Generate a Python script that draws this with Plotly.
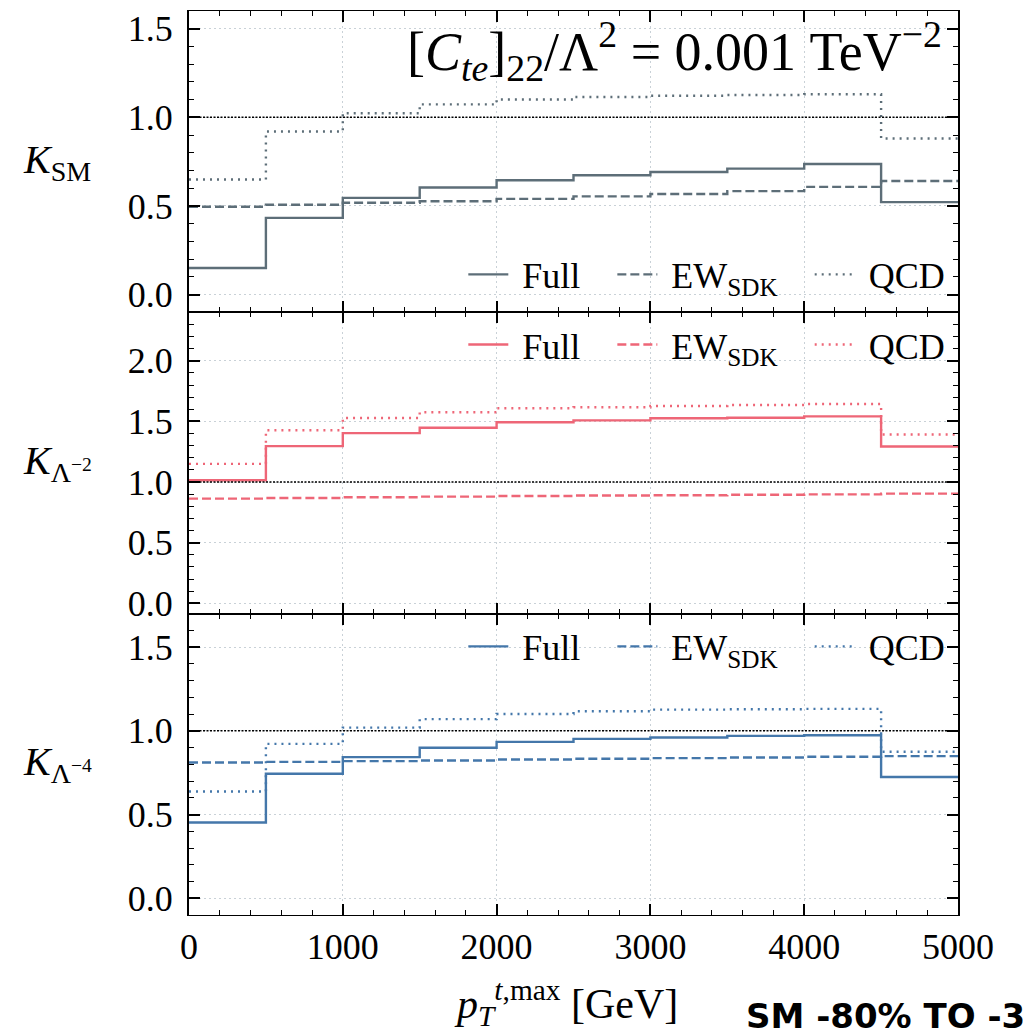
import plotly.graph_objects as go
from plotly.subplots import make_subplots

# ---------------- data ----------------
bin_edges = [0, 500, 1000, 1500, 2000, 2500, 3000, 3500, 4000, 4500, 5000]

ksm_full = [0.150, 0.433, 0.546, 0.604, 0.645, 0.673, 0.692, 0.711, 0.737, 0.522]
ksm_ew   = [0.496, 0.507, 0.518, 0.527, 0.540, 0.554, 0.568, 0.584, 0.608, 0.641]
ksm_qcd  = [0.649, 0.920, 1.023, 1.073, 1.101, 1.115, 1.122, 1.126, 1.130, 0.881]

kl2_full = [1.015, 1.297, 1.404, 1.448, 1.493, 1.509, 1.526, 1.531, 1.542, 1.294]
kl2_ew   = [0.864, 0.869, 0.875, 0.880, 0.885, 0.889, 0.892, 0.896, 0.899, 0.905]
kl2_qcd  = [1.150, 1.427, 1.529, 1.576, 1.609, 1.617, 1.628, 1.636, 1.644, 1.393]

kl4_full = [0.453, 0.744, 0.843, 0.899, 0.934, 0.952, 0.960, 0.970, 0.974, 0.724]
kl4_ew   = [0.811, 0.815, 0.819, 0.823, 0.829, 0.833, 0.837, 0.841, 0.845, 0.849]
kl4_qcd  = [0.638, 0.922, 1.019, 1.070, 1.101, 1.117, 1.127, 1.129, 1.131, 0.875]

series_names = ["Full", "EW<sub>SDK</sub>", "QCD"]
panel_labels = ["<i>K</i><sub>SM</sub>", "<i>K</i><sub>Λ<sup>−2</sup></sub>", "<i>K</i><sub>Λ<sup>−4</sup></sub>"]
x_ticks = [0, 1000, 2000, 3000, 4000, 5000]

# ---------------- style ----------------
colors = ["#5d6e78", "#ee6677", "#4477aa"]
dashes = ["solid", "9px,4px", "2px,5px"]
FONT = "Liberation Serif, Times New Roman, DejaVu Serif, serif"
NB = "\u00a0"

panels = [
    (ksm_full, ksm_ew, ksm_qcd),
    (kl2_full, kl2_ew, kl2_qcd),
    (kl4_full, kl4_ew, kl4_qcd),
]
yranges = [[-0.1, 1.6], [-0.085, 2.4], [-0.1, 1.7]]
legend_ids = ["legend", "legend2", "legend3"]

fig = make_subplots(rows=3, cols=1, shared_xaxes=True, vertical_spacing=0)

for i, (full, ew, qcd) in enumerate(panels):
    for k, (name, vals, dash) in enumerate(zip(series_names, (full, ew, qcd), dashes)):
        fig.add_trace(
            go.Scatter(
                x=bin_edges,
                y=list(vals) + [vals[-1]],
                mode="lines",
                line=dict(color=colors[i], width=2.4, dash=dash, shape="hv"),
                name=NB + name + (NB * 3 if k < 2 else ""),
                legend=legend_ids[i],
                showlegend=True,
            ),
            row=i + 1, col=1,
        )

axis_common = dict(
    showline=True, linecolor="black", mirror="allticks",
    ticks="inside", ticklen=11, tickwidth=1.6, tickcolor="black",
    showgrid=True, gridcolor="#c9d1d7", gridwidth=1, griddash="2px,3px",
    zeroline=False,
    tickfont=dict(family=FONT, size=36, color="black"),
)

for i in range(3):
    fig.update_yaxes(
        range=yranges[i], dtick=0.5, tick0=0, tickformat=".1f", linewidth=2,
        minor=dict(dtick=0.1, tick0=0, ticks="inside", ticklen=5, tickwidth=1.4,
                   tickcolor="black", showgrid=False),
        ticklabelstandoff=7,
        row=i + 1, col=1, **axis_common,
    )
    fig.update_xaxes(
        range=[0, 5000], tickvals=x_ticks, ticktext=[str(v) for v in x_ticks],
        linewidth=1.2,
        minor=dict(dtick=200, tick0=0, ticks="inside", ticklen=5, tickwidth=1.4,
                   tickcolor="black", showgrid=False),
        showticklabels=(i == 2), ticklabelstandoff=0,
        row=i + 1, col=1, **axis_common,
    )
    yref = "y" if i == 0 else f"y{i + 1}"
    xref = "x domain" if i == 0 else f"x{i + 1} domain"
    fig.add_shape(type="line", xref=xref, yref=yref, x0=0, x1=1, y0=1, y1=1,
                  line=dict(color="black", width=1.5, dash="2px,1.5px"), layer="above")

# legends
legend_common = dict(
    orientation="h", xanchor="right", yanchor="middle", bgcolor="rgba(0,0,0,0)",
    font=dict(family=FONT, size=36, color="black"), itemwidth=40,
    tracegroupgap=0,
)
fig.update_layout(
    legend=dict(x=0.99, y=0.7086, **legend_common),
    legend2=dict(x=0.99, y=0.631, **legend_common),
    legend3=dict(x=0.99, y=0.297, **legend_common),
)

# panel y labels
panel_centers = [5 / 6, 0.5, 1 / 6]
for lab, yc in zip(panel_labels, panel_centers):
    fig.add_annotation(text=lab, xref="paper", yref="paper", x=-0.218, y=yc,
                       xanchor="left", yanchor="middle", showarrow=False,
                       font=dict(family=FONT, size=40, color="black"))

# coefficient annotation
fig.add_annotation(
    text="[<i>C</i><sub><i>te</i></sub>]<sub>22</sub>/Λ<sup>2</sup> = 0.001 TeV<sup>−2</sup>",
    xref="x domain", yref="y domain", x=0.982, y=1.0, xanchor="right", yanchor="top",
    showarrow=False, font=dict(family=FONT, size=54, color="black"),
)

# x-axis title
fig.add_annotation(
    text="<i>p</i><sub><i>T</i></sub><sup><i>t</i>,max</sup> [GeV]",
    xref="paper", yref="paper", x=0.49, y=-0.097, xanchor="center", yanchor="middle",
    showarrow=False, font=dict(family=FONT, size=42, color="black"),
)

# caption fragment at bottom right
fig.add_annotation(
    text="<b>SM -80% TO -30%</b>", xref="paper", yref="paper",
    x=(744 - 189) / 769, y=-0.136, xanchor="left", yanchor="bottom",
    showarrow=False, font=dict(family="DejaVu Sans", size=34, color="black"),
)

fig.update_layout(
    width=1023, height=1033,
    margin=dict(l=189, r=65, t=9, b=118),
    plot_bgcolor="white", paper_bgcolor="white",
    font=dict(family=FONT, color="black"),
)

fig.write_html("out.html")
